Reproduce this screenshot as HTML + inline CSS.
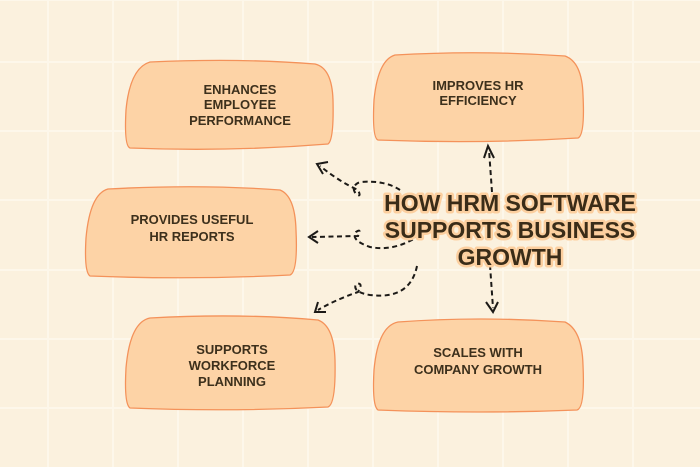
<!DOCTYPE html>
<html><head><meta charset="utf-8"><style>
html,body{margin:0;padding:0;width:700px;height:467px;overflow:hidden;background:#fbf1de}
svg{display:block}
.t{font-family:"Liberation Sans",sans-serif;font-weight:bold;fill:#3d301c;font-size:13px;text-anchor:middle}
.h{font-family:"Liberation Sans",sans-serif;font-weight:bold;fill:#3a2c18;font-size:23px;text-anchor:middle;stroke:#fccf9f;stroke-width:5px;paint-order:stroke;stroke-linejoin:round}
.b{fill:#fdd3a6;stroke:#f4925a;stroke-width:1.3}
.d{fill:none;stroke:#1c1a17;stroke-width:2;stroke-dasharray:5 3.5}
.a{fill:none;stroke:#1c1a17;stroke-width:2}
</style></head><body>
<svg width="700" height="467" viewBox="0 0 700 467">
<g stroke="#fdf7ea" stroke-width="2">
<line x1="48" y1="0" x2="48" y2="467"/><line x1="113" y1="0" x2="113" y2="467"/><line x1="178" y1="0" x2="178" y2="467"/><line x1="243" y1="0" x2="243" y2="467"/><line x1="308" y1="0" x2="308" y2="467"/><line x1="373" y1="0" x2="373" y2="467"/><line x1="438" y1="0" x2="438" y2="467"/><line x1="503" y1="0" x2="503" y2="467"/><line x1="568" y1="0" x2="568" y2="467"/><line x1="633" y1="0" x2="633" y2="467"/>
<line x1="0" y1="0" x2="700" y2="0"/><line x1="0" y1="62" x2="700" y2="62"/><line x1="0" y1="131" x2="700" y2="131"/><line x1="0" y1="200" x2="700" y2="200"/><line x1="0" y1="270" x2="700" y2="270"/><line x1="0" y1="339" x2="700" y2="339"/><line x1="0" y1="408" x2="700" y2="408"/>
</g>
<g>
<path class="b" d="M150 62 Q240 58 315 64 Q332 68 333 100 Q334 140 328 144 Q230 152 130 148 Q124 146 126 110 Q130 68 150 62Z"/>
<path class="b" d="M395 55 Q480 50 565 56 Q582 62 583 95 Q585 135 578 138 Q480 144 378 140 Q372 138 374 100 Q378 60 395 55Z"/>
<path class="b" d="M108 189 Q200 184 280 190 Q295 196 296 230 Q298 272 290 275 Q190 280 90 276 Q84 272 86 238 Q90 194 108 189Z"/>
<path class="b" d="M150 318 Q240 313 318 320 Q334 326 335 360 Q336 404 328 407 Q230 412 130 408 Q124 404 126 368 Q130 322 150 318Z"/>
<path class="b" d="M398 322 Q480 316 565 322 Q582 330 583 365 Q585 408 577 410 Q480 414 378 410 Q372 406 374 370 Q378 326 398 322Z"/>
</g>
<text class="t" x="240" y="94">ENHANCES</text>
<text class="t" x="240" y="109">EMPLOYEE</text>
<text class="t" x="240" y="125">PERFORMANCE</text>
<text class="t" x="478" y="90">IMPROVES HR</text>
<text class="t" x="478" y="105">EFFICIENCY</text>
<text class="t" x="192" y="224">PROVIDES USEFUL</text>
<text class="t" x="192" y="241">HR REPORTS</text>
<text class="t" x="232" y="354">SUPPORTS</text>
<text class="t" x="232" y="370">WORKFORCE</text>
<text class="t" x="232" y="386">PLANNING</text>
<text class="t" x="478" y="357">SCALES WITH</text>
<text class="t" x="478" y="374">COMPANY GROWTH</text>
<path class="d" d="M400 190 Q385 180 360 182 Q350 186 356 194 Q362 198 358 190 Q340 182 320 166"/>
<path class="a" d="M328 162 L317 164 L323 174"/>
<path class="d" d="M420 235 Q395 252 370 247 Q350 240 356 232 Q362 228 358 236 L312 237"/>
<path class="a" d="M318 231 L309 237 L318 243"/>
<path class="d" d="M417 266 Q410 300 370 295 Q352 292 356 284 Q364 282 358 292 Q335 300 318 310"/>
<path class="a" d="M318 302 L315 312 L326 312"/>
<path class="d" d="M492 192 L489 150"/>
<path class="a" d="M484 158 L488 146 L494 158"/>
<path class="d" d="M490 265 L493 308"/>
<path class="a" d="M486 302 L493 312 L498 302"/>
<text class="h" x="510" y="211">HOW HRM SOFTWARE</text>
<text class="h" x="510" y="238">SUPPORTS BUSINESS</text>
<text class="h" x="510" y="265">GROWTH</text>
</svg>
</body></html>
